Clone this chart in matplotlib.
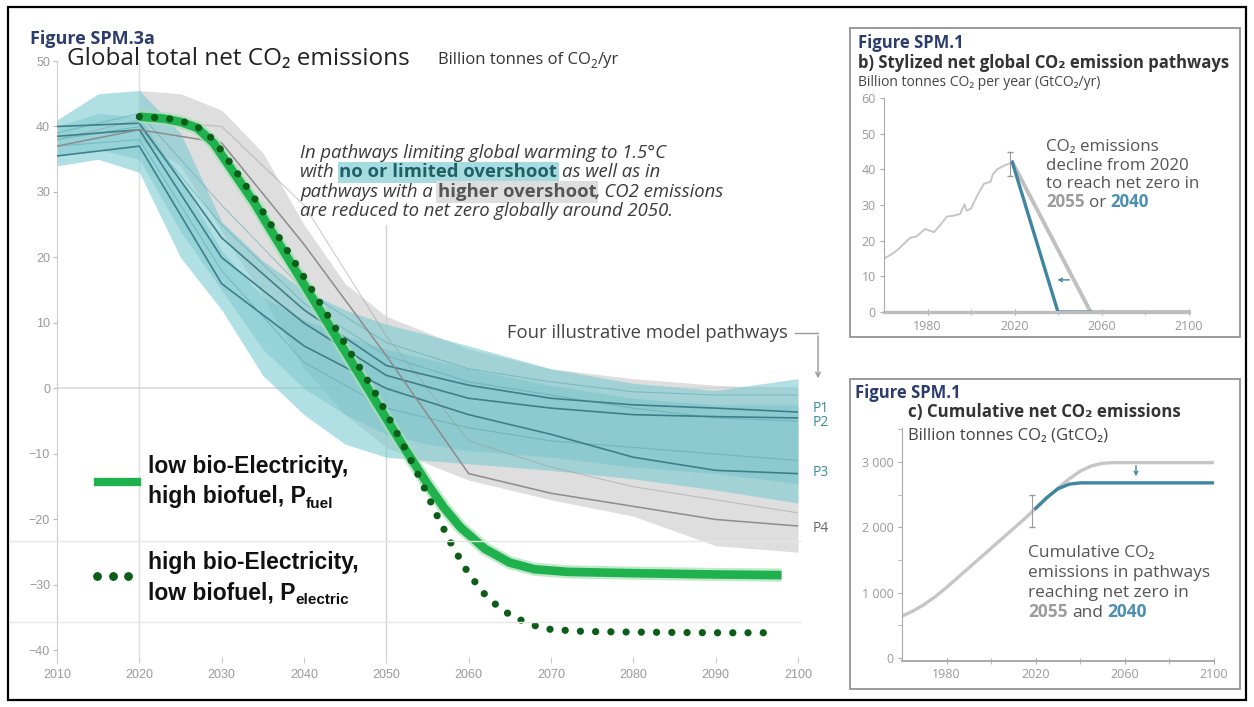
import matplotlib
matplotlib.use('Agg')
import matplotlib.pyplot as plt
from matplotlib.lines import Line2D
from matplotlib.patches import Rectangle, FancyArrowPatch

# ---- data: main panel (Figure SPM.3a) ----
fan_yrs = [2010, 2015, 2020, 2025, 2030, 2035, 2040, 2045, 2050, 2055, 2060, 2070, 2080, 2090, 2100]
teal_hi = [41, 45, 45.5, 39, 25.5, 19.5, 15, 12, 9.8, 8.2, 6.5, 3, 0.8, -0.3, 1.5]
teal_lo = [34, 35, 33, 20, 12, 2, -4, -8.5, -10.5, -11, -11.5, -12.5, -13.8, -15.5, -17.5]
teal2_hi = [40, 42, 41.5, 32, 21, 14, 10.5, 8, 6, 4.5, 3, 0.5, -1.5, -2.5, -2.5]
teal2_lo = [35.5, 36.5, 35, 24, 15, 6, 0, -4, -7, -8.5, -9.5, -10.5, -12, -13, -14.5]

gray_yrs = [2020, 2025, 2030, 2035, 2040, 2045, 2050, 2060, 2070, 2080, 2090, 2100]
gray_hi = [45.5, 45, 42.5, 36, 25, 16, 11, 6, 3, 1.5, 0.5, 0]
gray_lo = [38, 34, 24, 14, 3, -4, -9, -14, -17, -19.5, -24, -25]

path_yrs = [2010, 2020, 2030, 2040, 2050, 2060, 2070, 2080, 2090, 2100]
p1 = [40, 40.5, 23, 12, 3.5, 0.5, -1.5, -2.5, -3, -3.6]
p2 = [38.5, 39.5, 20, 10, 2, -1.5, -3, -4, -4.3, -4.5]
p3 = [35.5, 37, 16, 6.5, 0, -4, -7, -10.5, -12.5, -13]
p4 = [37, 39.5, 37.5, 22, 5, -13, -16, -18, -20, -21]
faint1 = [39, 42, 28, 15, 7, 3, 1, -0.5, -1, -1]
faint2 = [37, 38, 18, 4, -3, -6, -8, -9, -10, -11]
faint3 = [38, 40, 25, 13, 5, 1, -1, -3, -4.5, -5]
faint_gray = [38, 41, 40, 28, 8, -8, -12, -15, -17, -19]

fuel_yrs = [2020, 2023, 2025, 2027, 2029, 2031, 2034, 2036, 2040, 2044, 2048, 2052, 2055, 2057,
            2059, 2062, 2065, 2068, 2072, 2080, 2090, 2098]
fuel_vals = [41.5, 41.2, 40.7, 39.8, 37.5, 33.8, 28.3, 24.1, 15.9, 7.7, -0.5, -8.7, -14.6, -18.2,
             -21.2, -24.5, -26.6, -27.6, -28.0, -28.2, -28.4, -28.5]
elec_yrs = [2020, 2023, 2025, 2027, 2029, 2031, 2034, 2037, 2041, 2045, 2049, 2052, 2054, 2056,
            2058, 2060, 2062, 2064, 2066, 2068, 2070, 2074, 2080, 2090, 2097]
elec_vals = [41.5, 41.3, 40.9, 40.0, 38.0, 34.5, 29.0, 23.0, 15.0, 6.8, -1.4, -8.5, -13.5, -19.0,
             -24.0, -28.3, -31.5, -33.8, -35.2, -36.2, -36.8, -37.1, -37.2, -37.3, -37.3]

path_labels = ['P1', 'P2', 'P3', 'P4']

# ---- data: panel b ----
hist_yrs = [1960, 1963, 1966, 1969, 1972, 1975, 1977, 1979, 1981, 1983, 1986, 1989, 1992, 1995,
            1997, 1998, 2000, 2003, 2006, 2009, 2010, 2012, 2015, 2019]
hist_vals = [15, 16, 17.3, 19, 20.8, 21.2, 22.3, 23.3, 22.8, 22.4, 24.5, 26.8, 27, 27.5,
             30.2, 28.4, 29, 32.8, 36, 36.5, 38.5, 40, 41, 42]
path55_yrs = [2019, 2055, 2100]
path55_vals = [42, 0, 0]
path40_yrs = [2019, 2040, 2055]
path40_vals = [42, 0, 0]

# ---- data: panel c ----
cum_yrs = [1960, 1965, 1970, 1975, 1980, 1985, 1990, 1995, 2000, 2005, 2010, 2015, 2020, 2025,
           2030, 2035, 2040, 2045, 2050, 2055, 2100]
cum_55 = [640, 720, 820, 940, 1080, 1230, 1380, 1530, 1680, 1830, 1980, 2130, 2290, 2450,
          2600, 2740, 2860, 2940, 2980, 2990, 2990]
cum40_yrs = [2020, 2025, 2030, 2035, 2040, 2100]
cum_40 = [2290, 2455, 2590, 2660, 2680, 2680]

W, H = 1254, 707
fig = plt.figure(figsize=(W / 100, H / 100), dpi=100)
fig.patch.set_facecolor('white')
rend = fig.canvas.get_renderer()

SANS = ['Open Sans', 'DejaVu Sans']
ARIAL = ['Liberation Sans', 'DejaVu Sans']
NARROW = ['Liberation Sans Narrow', 'Liberation Sans', 'DejaVu Sans']
NAVY = '#2d3d6b'
TEAL_TXT = '#3b8d99'
BLUE = '#3e86a0'
GREEN = '#1fb14e'
DKGREEN = '#0b5d17'


def fx(px):
    return px / W


def fy(py):
    return 1 - py / H


def width(s, **kw):
    t = fig.text(0, 0, s, **kw)
    w = t.get_window_extent(rend).width
    t.remove()
    return w


def run(x, yc, parts, size, **base):
    # draw text pieces one after another on one baseline
    y = yc + 0.27 * size * 100 / 72
    for s, extra in parts:
        kw = dict(base)
        kw['fontsize'] = size
        kw.update(extra)
        dy = kw.pop('dy', 0)
        if s == ' ':
            x += width('a a', **kw) - width('aa', **kw)
            continue
        t = fig.text(fx(x), fy(y + dy), s, va='baseline', ha='left', **kw)
        x = t.get_window_extent(rend).x1
    return x


def fline(xs, ys, **kw):
    fig.add_artist(Line2D([fx(v) for v in xs], [fy(v) for v in ys], transform=fig.transFigure, **kw))


# outer frame and panel boxes
fig.add_artist(Rectangle((fx(8), fy(700)), (1246 - 8) / W, (700 - 7) / H, transform=fig.transFigure,
                         fill=False, ec='black', lw=1.6))
fig.add_artist(Rectangle((fx(850), fy(337)), 390 / W, 309 / H, transform=fig.transFigure,
                         fill=False, ec='#9a9a9a', lw=1.4))
fig.add_artist(Rectangle((fx(850), fy(689)), 390 / W, 310 / H, transform=fig.transFigure,
                         fill=False, ec='#9a9a9a', lw=1.4))

# faint guide lines across the legend area
fline([10, 800], [541, 541], color='#e6e6e6', lw=1)
fline([10, 800], [622, 622], color='#e6e6e6', lw=1)

# ---- main panel ----
ax = fig.add_axes([fx(57), fy(657), (798 - 57) / W, (657 - 61) / H])
ax.set_xlim(2010, 2100)
ax.set_ylim(-41, 50)
ax.patch.set_alpha(0)

ax.axhline(0, color='#d9d9d9', lw=1.2, zorder=0)
ax.axvline(2020, color='#dedede', lw=1, zorder=0)
ax.plot([2050, 2050], [25, -41], color='#d2d2d2', lw=1, zorder=0)

ax.fill_between(gray_yrs, gray_lo, gray_hi, color='#d3d3d3', alpha=0.75, lw=0, zorder=1)
ax.fill_between(fan_yrs, teal_lo, teal_hi, color='#7ccbd2', alpha=0.6, lw=0, zorder=2)
ax.fill_between(fan_yrs, teal2_lo, teal2_hi, color='#5cb8c2', alpha=0.3, lw=0, zorder=2)

for f in [faint1, faint2, faint3]:
    ax.plot(path_yrs, f, color='#4f9da8', lw=0.8, alpha=0.45, zorder=3)
ax.plot(path_yrs, faint_gray, color='#9a9a9a', lw=0.8, alpha=0.5, zorder=3)
for p in [p1, p2, p3]:
    ax.plot(path_yrs, p, color='#3d7f8a', lw=1.2, zorder=4)
ax.plot(path_yrs, p4, color='#8c8c8c', lw=1.1, zorder=4)

ax.plot(fuel_yrs, fuel_vals, color='#a9e0b6', lw=9.5, alpha=0.7, solid_capstyle='butt', zorder=5)
ax.plot(fuel_yrs, fuel_vals, color=GREEN, lw=6.2, solid_capstyle='butt', zorder=6)
ax.plot(elec_yrs, elec_vals, color=DKGREEN, lw=5.2, linestyle=(0, (0.01, 2.1)),
        dash_capstyle='round', zorder=7)

for s in ['top', 'right', 'bottom']:
    ax.spines[s].set_visible(False)
ax.spines['left'].set_color('#cccccc')
ax.set_yticks(range(-40, 51, 10))
ax.set_xticks(range(2010, 2101, 10))
ax.tick_params(axis='y', length=3, width=0.8, color='#bbbbbb', labelcolor='#9a9a9a',
               labelsize=9, pad=2)
ax.tick_params(axis='x', length=4, width=0.8, color='#cccccc', labelcolor='#9a9a9a',
               labelsize=9, pad=5)
for lab in ax.get_xticklabels() + ax.get_yticklabels():
    lab.set_family(NARROW)

# pathway labels
for lab, yc in zip(path_labels, [409, 423, 472, 529]):
    fig.text(fx(813), fy(yc), lab, va='center', ha='left', fontsize=10, family=SANS,
             color=TEAL_TXT if lab != 'P4' else '#666666')

fig.text(fx(788), fy(333), 'Four illustrative model pathways', va='center', ha='right',
         fontsize=13.3, family=SANS, color='#444444')
fline([795, 818], [333, 333], color='#999999', lw=1)
fig.add_artist(FancyArrowPatch((fx(818), fy(333)), (fx(818), fy(381)), transform=fig.transFigure,
                               arrowstyle='->', mutation_scale=8, color='#999999', lw=1))

# titles
run(30, 39, [('Figure SPM.3a', {})], 13, family=SANS, weight='bold', color=NAVY)
run(67, 58.5, [('Global total net CO\u2082 emissions', {})], 17.5, family=SANS, color='#222222')
run(438, 60, [('Billion tonnes of CO', {}), ('2', {'fontsize': 8.5, 'dy': 3}), ('/yr', {})],
    12, family=SANS, color='#333333')

# annotation
ital = dict(family=SANS, style='italic', color='#3a3a3a')
hl_teal = {'style': 'normal', 'weight': 'bold', 'color': '#1f5f66',
           'bbox': dict(boxstyle='square,pad=0.1', fc='#a6dce0', ec='none')}
hl_gray = {'style': 'normal', 'weight': 'bold', 'color': '#555555',
           'bbox': dict(boxstyle='square,pad=0.1', fc='#dedede', ec='none')}
asz = 13.3
run(300, 153, [('In pathways limiting global warming to 1.5\u00b0C', {})], asz, **ital)
run(300, 172.5, [('with', {}), (' ', {}), ('no or limited overshoot', hl_teal), (' ', {}),
                 ('as well as in', {})], asz, **ital)
run(300, 192, [('pathways with a', {}), (' ', {}), ('higher overshoot', hl_gray),
               (', CO2 emissions', {})], asz, **ital)
run(300, 211, [('are reduced to net zero globally around 2050.', {})], asz, **ital)

# legend
fline([98, 137], [482, 482], color=GREEN, lw=6)
leg = dict(family=ARIAL, weight='bold', color='#111111')
run(148, 467, [('low bio-Electricity,', {})], 16.5, **leg)
run(148, 497, [('high biofuel, P', {}), ('fuel', {'fontsize': 11, 'dy': 5})], 16.5, **leg)
fig.add_artist(Line2D([fx(97), fx(113), fx(128)], [fy(576)] * 3, transform=fig.transFigure,
                      ls='none', marker='o', ms=5.3, mfc=DKGREEN, mec=DKGREEN))
run(148, 563, [('high bio-Electricity,', {})], 16.5, **leg)
run(148, 593, [('low biofuel, P', {}), ('electric', {'fontsize': 11, 'dy': 5})], 16.5, **leg)

# ---- panel b ----
axb = fig.add_axes([fx(884), fy(312), 304.5 / W, (312 - 98) / H])
axb.set_xlim(1960, 2100)
axb.set_ylim(0, 60)
axb.patch.set_alpha(0)
axb.plot(hist_yrs, hist_vals, color='#c6c6c6', lw=1.4)
axb.plot(path55_yrs, path55_vals, color='#c0c0c0', lw=2.8, solid_capstyle='round')
axb.plot(path40_yrs, path40_vals, color=BLUE, lw=2.4)
axb.errorbar([2018], [41.4], yerr=[[3.4], [3.4]], fmt='none', ecolor='#9a9a9a', elinewidth=0.8, capsize=2)
axb.annotate('', xy=(2038.5, 9), xytext=(2046.5, 9),
             arrowprops=dict(arrowstyle='->', color=BLUE, lw=1, mutation_scale=6))
for s in ['top', 'right']:
    axb.spines[s].set_visible(False)
axb.spines['left'].set_color('#aaaaaa')
axb.spines['bottom'].set_color('#bdbdbd')
axb.spines['bottom'].set_linewidth(2.4)
axb.set_yticks(range(0, 61, 10))
axb.set_xticks([1980, 2020, 2060, 2100])
axb.set_xticks([2000, 2040, 2080], minor=True)
axb.tick_params(axis='y', length=3, color='#aaaaaa', labelcolor='#999999', labelsize=9, pad=3)
axb.tick_params(axis='x', which='both', direction='inout', length=5, color='#aaaaaa',
                labelcolor='#999999', labelsize=9, pad=3)
for lab in axb.get_xticklabels() + axb.get_yticklabels():
    lab.set_family(SANS)

run(858, 43, [('Figure SPM.1', {})], 12, family=SANS, weight='bold', color=NAVY)
run(858, 63, [('b) Stylized net global CO\u2082 emission pathways', {})], 12, family=SANS,
    weight='bold', color='#333333')
run(858, 82, [('Billion tonnes CO\u2082 per year (GtCO\u2082/yr)', {})], 10, family=SANS, color='#444444')
btxt = dict(family=SANS, color='#555555')
bsz = 12.2
run(1046, 146, [('CO\u2082 emissions', {})], bsz, **btxt)
run(1046, 165, [('decline from 2020', {})], bsz, **btxt)
run(1046, 183.5, [('to reach net zero in', {})], bsz, **btxt)
run(1046, 202, [('2055', {'weight': 'bold', 'color': '#9c9c9c'}), (' ', {}), ('or', {}), (' ', {}),
                ('2040', {'weight': 'bold', 'color': '#4a8fb0'})], bsz, **btxt)

# ---- panel c ----
axc = fig.add_axes([fx(902), fy(660.6), 312 / W, (660.6 - 428) / H])
axc.set_xlim(1960, 2100)
axc.set_ylim(-40, 3520)
axc.patch.set_alpha(0)
axc.plot(cum_yrs, cum_55, color='#c6c6c6', lw=2.4)
axc.plot(cum40_yrs, cum_40, color=BLUE, lw=2.4)
axc.errorbar([2018.5], [2250], yerr=[[245], [245]], fmt='none', ecolor='#9a9a9a', elinewidth=0.8, capsize=2)
axc.annotate('', xy=(2065, 2740), xytext=(2065, 2985),
             arrowprops=dict(arrowstyle='->', color=BLUE, lw=1, mutation_scale=6))
for s in ['top', 'right']:
    axc.spines[s].set_visible(False)
axc.spines['left'].set_color('#aaaaaa')
axc.spines['bottom'].set_color('#aaaaaa')
axc.spines['bottom'].set_linewidth(1.4)
axc.set_yticks([0, 1000, 2000, 3000])
axc.set_yticklabels(['0', '1 000', '2 000', '3 000'])
axc.set_yticks([500, 1500, 2500, 3500], minor=True)
axc.set_xticks([1980, 2020, 2060, 2100])
axc.set_xticks([2000, 2040, 2080], minor=True)
axc.tick_params(axis='y', which='both', length=3, color='#aaaaaa', labelcolor='#999999',
                labelsize=9, pad=3)
axc.tick_params(axis='x', which='both', direction='inout', length=5, color='#aaaaaa',
                labelcolor='#999999', labelsize=9, pad=3)
for lab in axc.get_xticklabels() + axc.get_yticklabels():
    lab.set_family(SANS)

run(855, 393, [('Figure SPM.1', {})], 12, family=SANS, weight='bold', color=NAVY)
run(908, 412, [('c) Cumulative net CO\u2082 emissions', {})], 12.2, family=SANS, weight='bold',
    color='#333333')
run(908, 435, [('Billion tonnes CO\u2082 (GtCO\u2082)', {})], 12, family=SANS, color='#444444')
ctxt = dict(family=SANS, color='#555555')
csz = 12.5
run(1028, 552, [('Cumulative CO\u2082', {})], csz, **ctxt)
run(1028, 572, [('emissions in pathways', {})], csz, **ctxt)
run(1028, 592, [('reaching net zero in', {})], csz, **ctxt)
run(1028, 612, [('2055', {'weight': 'bold', 'color': '#9c9c9c'}), (' ', {}), ('and', {}), (' ', {}),
                ('2040', {'weight': 'bold', 'color': '#4a8fb0'})], csz, **ctxt)

fig.savefig('out.png', dpi=100)
